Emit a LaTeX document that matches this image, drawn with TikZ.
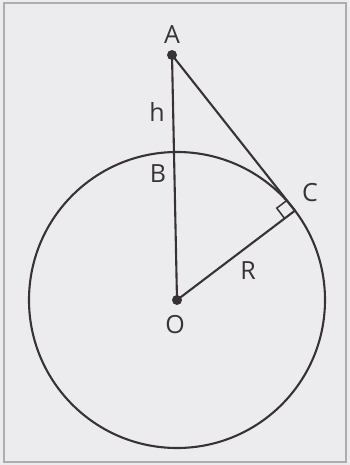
\documentclass[tikz,border=0pt]{standalone}
\usepackage{fontspec}
\setmainfont{Open Sans}
\usetikzlibrary{calc}
\definecolor{bg}{RGB}{236,236,239}
\definecolor{ink}{RGB}{55,50,54}
\definecolor{frame}{RGB}{175,172,176}
\begin{document}
\begin{tikzpicture}[x=1pt,y=-1pt,
  ln/.style={draw=ink,line width=2.1pt},
  lbl/.style={text=ink,font=\fontsize{25}{27}\selectfont,inner sep=0pt},
  dotpt/.style={circle,fill=ink,inner sep=0pt,minimum size=10pt}]
\fill[bg] (0,0) rectangle (350,465);
\useasboundingbox (0,0) rectangle (350,465);
\draw[frame,line width=2.5pt] (4,3) -- (346,3) -- (346,462) -- (4,462) -- cycle;
\coordinate (O) at (177,300);
\coordinate (A) at (172,55);
\def\rr{148}
% circle
\draw[ln] (O) circle (\rr);
% tangent point C
\pgfmathsetmacro{\dd}{veclen(5,245)}
\pgfmathsetmacro{\th}{acos(\rr/\dd)}
\coordinate (C) at ($(O)+({\rr*sin(\th)},{-\rr*cos(\th)})$);
\draw[ln] (A) -- (O);
\draw[ln] (A) -- (C);
\draw[ln] (O) -- (C);
% right angle mark
\draw[ln,line width=1.5pt] ($(C)!13pt!(O)$) -- ($(C)!13pt!(O)!13pt!90:(C)$) -- ($(C)!13pt!(A)$);
\node[dotpt] (Ad) at (A) {};
\node[dotpt] (Od) at (O) {};
\node[lbl] (lA) at (172,35) {A};
\node[lbl] (lh) at (157,112) {h};
\node[lbl] (lB) at (158,174) {B};
\node[lbl] (lC) at (310,193) {C};
\node[lbl] (lR) at (248,271) {R};
\node[lbl] (lO) at (175,325) {O};
\end{tikzpicture}
\end{document}
